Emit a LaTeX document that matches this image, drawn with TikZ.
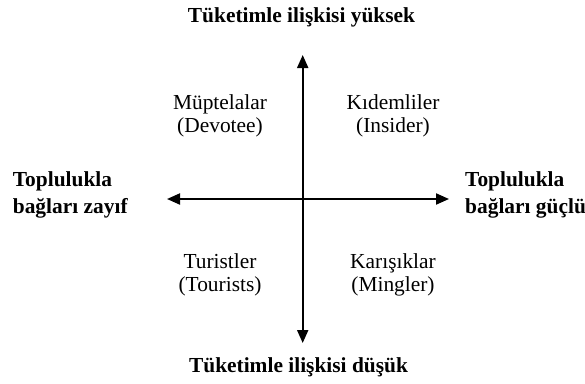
\documentclass[tikz,border=0pt]{standalone}
\usepackage{fontspec}
\setmainfont{Liberation Serif}
\usetikzlibrary{arrows.meta}
\begin{document}
\begin{tikzpicture}[x=1pt,y=-1pt,
  lbl/.style={inner sep=0pt,font=\fontsize{21.4}{23}\selectfont},
  bold/.style={lbl,font=\fontsize{21.4}{26.3}\selectfont\bfseries},
  axis/.style={line width=2pt,{Triangle[length=13pt,width=11pt]}-{Triangle[length=13pt,width=11pt]}}]
\useasboundingbox (0,0) rectangle (585,383);
\coordinate (top) at (302.7,55);
\coordinate (bot) at (302.7,343);
\coordinate (lft) at (167,199);
\coordinate (rgt) at (449,199);
\draw[axis] (bot) -- (top);
\draw[axis] (lft) -- (rgt);
\node[bold,anchor=base] (ttl) at (301.5,22) {Tüketimle ilişkisi yüksek};
\node[bold,anchor=base] (btl) at (298.5,372.7) {Tüketimle ilişkisi düşük};
\node[bold,anchor=base west,align=left] (ll) at (12.7,213) {Toplulukla\\bağları zayıf};
\node[bold,anchor=base west,align=left] (rl) at (465,213) {Toplulukla\\bağları güçlü};
\node[lbl,anchor=base,align=center] (q1) at (220,132.3) {Müptelalar\\(Devotee)};
\node[lbl,anchor=base,align=center] (q2) at (393,132.3) {Kıdemliler\\(Insider)};
\node[lbl,anchor=base,align=center] (q3) at (220,291.7) {Turistler\\(Tourists)};
\node[lbl,anchor=base,align=center] (q4) at (393,291.7) {Karışıklar\\(Mingler)};
\end{tikzpicture}
\end{document}
